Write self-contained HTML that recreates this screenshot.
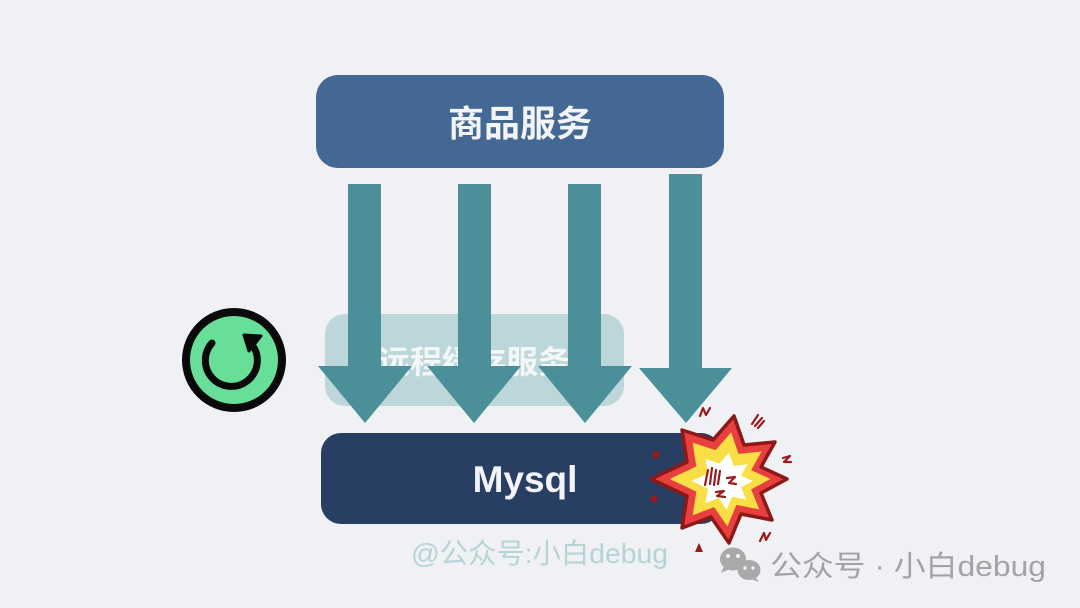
<!DOCTYPE html>
<html>
<head>
<meta charset="utf-8">
<style>
html,body{margin:0;padding:0;}
body{width:1080px;height:608px;background:#eff1f4;overflow:hidden;}
svg{display:block;}
text{font-family:"Liberation Sans","Noto Sans CJK SC",sans-serif;}
</style>
</head>
<body>
<svg width="1080" height="608" viewBox="0 0 1080 608" xmlns="http://www.w3.org/2000/svg">
  <rect x="0" y="0" width="1080" height="608" fill="#eff1f4"/>

  <!-- top box -->
  <rect x="316" y="75" width="408" height="93" rx="22" fill="#436893"/>
  <text x="520" y="136" text-anchor="middle" font-size="36" font-weight="bold" fill="#f2f4f8">商品服务</text>

  <!-- middle translucent box -->
  <rect x="325" y="314" width="299" height="92" rx="20" fill="#bdd6da"/>
  <text x="474" y="373" text-anchor="middle" font-size="32" font-weight="bold" fill="#f4f7f8">远程缓存服务</text>

  <!-- arrows -->
  <g fill="#4b8f98">
    <rect x="348" y="184" width="33" height="183"/>
    <polygon points="318,366 412,366 365,423"/>
    <rect x="458" y="184" width="33" height="183"/>
    <polygon points="427,366 521,366 474,423"/>
    <rect x="568" y="184" width="33" height="183"/>
    <polygon points="538,366 632,366 585,423"/>
    <rect x="669" y="174" width="33" height="195"/>
    <polygon points="639,368 732,368 686,423"/>
  </g>

  <!-- mysql box -->
  <rect x="321" y="433" width="400" height="91" rx="20" fill="#283f63"/>
  <text x="525" y="492" text-anchor="middle" font-size="37" font-weight="bold" fill="#f2f4f8">Mysql</text>

  <!-- refresh icon -->
  <circle cx="234" cy="360" r="48" fill="#67df99" stroke="#0a0a0a" stroke-width="8"/>
  <path d="M212,343 A26,26 0 1 0 253,346" fill="none" stroke="#0a0a0a" stroke-width="7" stroke-linecap="round"/>
  <polygon points="244,335 261,336 249,351" fill="#0a0a0a" stroke="#0a0a0a" stroke-width="3" stroke-linejoin="round"/>

  <!-- explosion -->
  <g stroke-linejoin="round">
    <polygon points="787,479 761,493 772,520 741,514 729,543 711,517 682,528 687,496 651,479 687,462 682,430 713,440 734,416 744,445 775,442 761,467"
      fill="#e8403e" stroke="#8c1818" stroke-width="3.5"/>
    <polygon points="787,479 761,493 772,520 741,514 729,543 711,517 682,528 687,496 651,479 687,462 682,430 713,440 734,416 744,445 775,442 761,467"
      fill="#f8df45" transform="translate(723 479) scale(0.74) translate(-723 -479)"/>
    <polygon points="787,479 761,493 772,520 741,514 729,543 711,517 682,528 687,496 651,479 687,462 682,430 713,440 734,416 744,445 775,442 761,467"
      fill="#ffffff" transform="translate(724 481) scale(0.45) translate(-723 -479)"/>
    <g fill="none" stroke="#9a1b1b" stroke-width="2.2" stroke-linecap="round">
      <path d="M708,470 L705,485 M712,468 L710,484 M716,470 L714,485 M720,471 L718,484"/>
      <path d="M727,478 L735,477 L729,483 L736,484"/>
      <path d="M716,492 L724,491 L717,496 L725,497"/>
      <path d="M700,416 L703,408 L706,415 L710,408"/>
      <path d="M752,424 L758,415 M755,426 L762,418 M758,428 L764,421"/>
      <path d="M783,458 L790,456 L784,462 L791,462"/>
      <path d="M760,541 L764,533 L766,540 L770,533"/>
    </g>
    <g fill="#9a1b1b">
      <circle cx="656" cy="455" r="3.5"/>
      <circle cx="654" cy="499" r="3.5"/>
      <path d="M695,552 L699,543 L703,552 Z"/>
    </g>
  </g>

  <!-- watermark -->
  <text x="411" y="563" font-size="28" fill="#b6d3d6" textLength="257" lengthAdjust="spacingAndGlyphs">@公众号:小白debug</text>

  <!-- wechat icon -->
  <g fill="#a9a9a9">
    <ellipse cx="733" cy="559" rx="13" ry="11.5"/>
    <path d="M724,566 L721,573 L730,569 Z"/>
    <ellipse cx="749" cy="570" rx="11.5" ry="10"/>
    <path d="M755,577 L759,582 L751,579 Z"/>
  </g>
  <g fill="#eff1f4">
    <circle cx="728" cy="556" r="2"/>
    <circle cx="738" cy="556" r="2"/>
    <circle cx="745" cy="568" r="1.7"/>
    <circle cx="753" cy="568" r="1.7"/>
  </g>
  <text x="770" y="576" font-size="29" fill="#a3a3a3" textLength="276" lengthAdjust="spacingAndGlyphs">公众号 · 小白debug</text>
</svg>
</body>
</html>
